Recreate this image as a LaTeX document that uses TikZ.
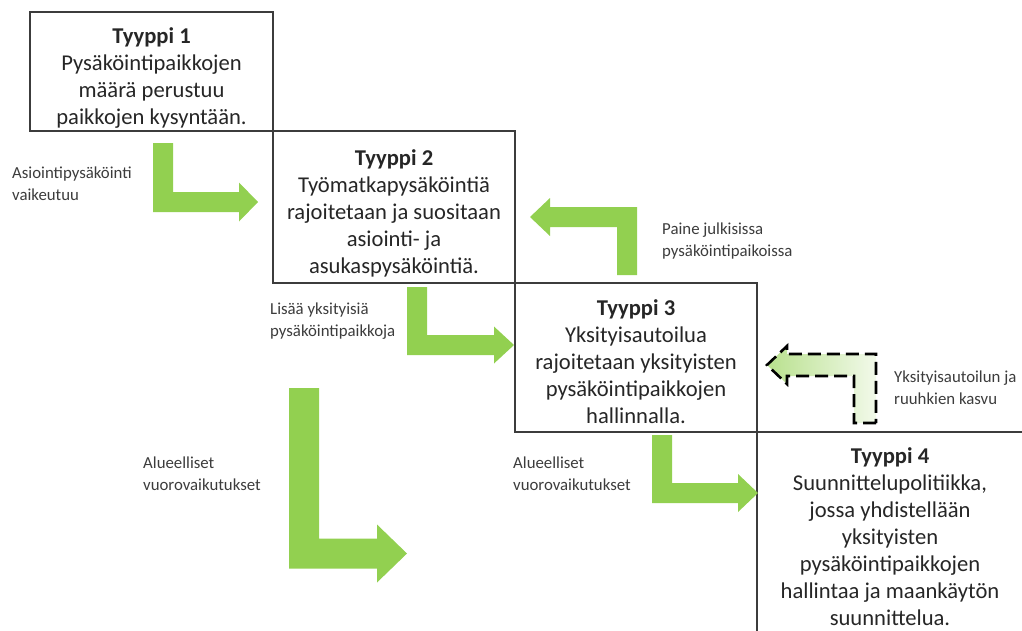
\documentclass[tikz,border=0pt]{standalone}
\usepackage{fontspec}
\setmainfont{Carlito}
\usepackage{xcolor}
\definecolor{typInk}{RGB}{38,38,38}
\definecolor{typRule}{RGB}{60,60,60}
\definecolor{typGreen}{RGB}{146,208,80}
\newcommand{\typBody}{\fontsize{22.6}{27}\selectfont}
\newcommand{\typSmall}{\fontsize{16.8}{22}\selectfont}
% L-shaped arrows: x of shaft, y of shaft end, shaft width, y of bar middle, tip x, head length, head half height
\newcommand{\bendDownRight}[8][typArrow]{%
  \path[#1] (#2,#3) -- ({#2+#4},#3) -- ({#2+#4},{#5-#4/2}) -- ({#6-#7},{#5-#4/2})
    -- ({#6-#7},{#5-#8}) -- (#6,#5) -- ({#6-#7},{#5+#8}) -- ({#6-#7},{#5+#4/2})
    -- (#2,{#5+#4/2}) -- cycle;}
\newcommand{\bendUpLeft}[8][typArrow]{%
  \path[#1] (#2,#3) -- ({#2-#4},#3) -- ({#2-#4},{#5+#4/2}) -- ({#6+#7},{#5+#4/2})
    -- ({#6+#7},{#5+#8}) -- (#6,#5) -- ({#6+#7},{#5-#8}) -- ({#6+#7},{#5-#4/2})
    -- (#2,{#5-#4/2}) -- cycle;}
\tikzset{
  typBox/.style={draw=typRule, line width=1.3pt, inner sep=0pt},
  typText/.style={align=center, font=\typBody, text=typInk, inner sep=0pt},
  typLabel/.style={align=left, font=\typSmall, text=typInk!90, inner sep=0pt, anchor=west},
  typArrow/.style={fill=typGreen},
  typDashed/.style={draw=black, line width=2.6pt, dash pattern=on 13pt off 6pt,
    left color=typGreen!65, right color=typGreen!12}
}

\begin{document}
\begin{tikzpicture}[x=1pt,y=-1pt]
\useasboundingbox (0,0) rectangle (1022,630);
\clip (0,0) rectangle (1022,630);
% boxes
\node[typBox,minimum width=243pt,minimum height=119pt] (box1) at (151.5,71.5) {};
\node[typBox,minimum width=242pt,minimum height=152pt] (box2) at (394,207) {};
\node[typBox,minimum width=242pt,minimum height=149pt] (box3) at (636,357.5) {};
\node[typBox,minimum width=280pt,minimum height=220pt] (box4) at (897,542) {};
\node[typText] (txt1) at ([yshift=-7pt]box1.center) {\textbf{Tyyppi 1}\\Pysäköintipaikkojen\\määrä perustuu\\paikkojen kysyntään.};
\node[typText] (txt2) at ([yshift=-6pt]box2.center) {\textbf{Tyyppi 2}\\Työmatkapysäköintiä\\rajoitetaan ja suositaan\\asiointi- ja\\asukaspysäköintiä.};
\node[typText] (txt3) at ([yshift=-4pt]box3.center) {\textbf{Tyyppi 3}\\Yksityisautoilua\\rajoitetaan yksityisten\\pysäköintipaikkojen\\hallinnalla.};
\node[typText] (txt4) at (890,537) {\textbf{Tyyppi 4}\\Suunnittelupolitiikka,\\jossa yhdistellään\\yksityisten\\pysäköintipaikkojen\\hallintaa ja maankäytön\\suunnittelua.};
% arrows
\bendDownRight{153}{143}{20}{202}{258}{19}{19.5}
\bendUpLeft{637}{275}{20}{217}{530}{20}{19}
\bendDownRight{407}{287}{20}{345}{514}{20}{18.5}
\bendDownRight{289}{388}{30}{553.5}{407}{30}{29}
\bendDownRight{652}{435}{20}{493}{758}{20}{19}
\bendUpLeft[typDashed]{876}{423}{22}{365}{767}{20}{19}
% labels
\node[typLabel] (lblA) at (12,184) {Asiointipysäköinti\\vaikeutuu};
\node[typLabel] (lblB) at (662,241) {Paine julkisissa\\pysäköintipaikoissa};
\node[typLabel] (lblC) at (270,321) {Lisää yksityisiä\\pysäköintipaikkoja};
\node[typLabel] (lblD) at (894,388) {Yksityisautoilun ja\\ruuhkien kasvu};
\node[typLabel] (lblE) at (143,474) {Alueelliset\\vuorovaikutukset};
\node[typLabel] (lblF) at (513,474) {Alueelliset\\vuorovaikutukset};
\end{tikzpicture}
\end{document}
